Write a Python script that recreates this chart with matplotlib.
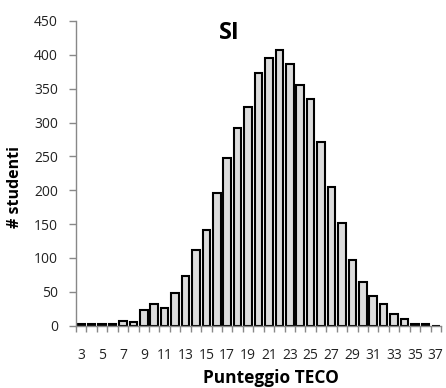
import matplotlib.pyplot as plt
import numpy as np

plt.rcParams['font.family'] = ['Open Sans', 'DejaVu Sans']

# punteggio TECO 3..37 and number of students per score
punteggio = list(range(3, 38))
studenti = [2, 3, 3, 2, 7, 6, 23, 32, 26, 48,
            73, 112, 141, 196, 248, 292, 323, 373, 396, 407,
            386, 355, 335, 272, 205, 152, 97, 65, 44, 32,
            17, 10, 2, 2, 0]
tick_labels = [str(p) if (p - 3) % 2 == 0 else '' for p in punteggio]

fig = plt.figure(figsize=(4.46, 3.88), dpi=100)
ax = fig.add_axes([76 / 446, 1 - 325.7 / 388, 365 / 446, 304.7 / 388])

x = np.arange(len(punteggio))
ax.bar(x, studenti, width=0.72, color='#dcdcdc', edgecolor='black', linewidth=1.5)

ax.set_xlim(-0.5, len(punteggio) - 0.5)
ax.set_ylim(0, 450)
ax.set_yticks(range(0, 451, 50))

ax.set_xticks(x)
ax.set_xticklabels(tick_labels)
ax.set_xticks(np.arange(-0.5, len(punteggio)), minor=True)
ax.tick_params(axis='x', which='major', length=0, pad=16, labelsize=10, colors='#222222')
ax.tick_params(axis='x', which='minor', length=4, color='#888888', width=1)
ax.tick_params(axis='y', length=5, color='#888888', width=1, pad=8, labelsize=10, labelcolor='#222222')

for s in ['top', 'right']:
    ax.spines[s].set_visible(False)
for s in ['left', 'bottom']:
    ax.spines[s].set_color('#888888')
    ax.spines[s].set_linewidth(1)

fig.text(229 / 446, 1 - 33 / 388, 'SI', fontsize=17, fontweight='bold', ha='center', va='center')
fig.text(15 / 446, 1 - 186.5 / 388, '# studenti', fontsize=11.5, fontweight='bold',
         rotation=90, ha='center', va='center')
fig.text(271 / 446, 1 - 378 / 388, 'Punteggio TECO', fontsize=12.5, fontweight='bold',
         ha='center', va='center')

fig.savefig('out.png', dpi=100)
